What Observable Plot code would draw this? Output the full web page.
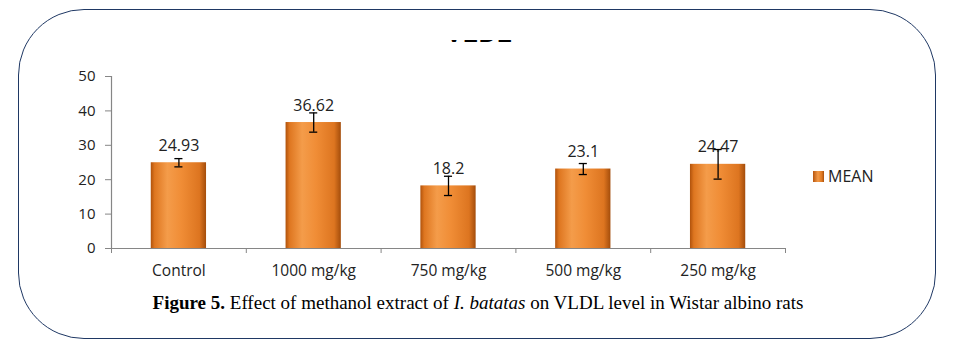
<!DOCTYPE html>
<html>
<head>
<meta charset="utf-8">
<script src="https://cdn.jsdelivr.net/npm/d3@7"></script>
<script src="https://cdn.jsdelivr.net/npm/@observablehq/plot@0.6"></script>
<style>
  html, body { margin: 0; padding: 0; background: #fff; }
  #root { position: relative; width: 980px; height: 351px; overflow: hidden; background: #fff; }
  #frame { position: absolute; left: 18px; top: 9px; width: 918px; height: 330px; border: 1.5px solid #1F3864; border-radius: 66px; box-sizing: border-box; }
  #chart { position: absolute; left: 79px; top: 0; }
  #titleClip { position: absolute; left: 440px; top: 40px; width: 80px; height: 4px; overflow: hidden; }
  #titleClip span { position: absolute; left: 6px; top: -20px; font: bold 24px "Liberation Sans", Arial, sans-serif; color: #000; letter-spacing: 1px; }
  #legend { position: absolute; left: 813px; top: 165px; font: 16px "Open Sans", sans-serif; color: #222; display: flex; align-items: center; }
  #legend .sw { width: 11px; height: 11px; margin-right: 4px; background: linear-gradient(90deg, #B8560E, #F39A48 45%, #E07A22 80%, #A9500D); }
  #caption { position: absolute; left: 0; width: 956px; top: 292px; text-align: center; font: 19px "Liberation Serif", "Times New Roman", serif; color: #000; }
</style>
</head>
<body>
<div id="root">
  <div id="frame"></div>
  <div id="titleClip"><span>VLDL</span></div>
  <div id="chart"></div>
  <div id="legend"><div class="sw"></div><span>MEAN</span></div>
  <div id="caption"><b>Figure 5.</b> Effect of methanol extract of <i>I. batatas</i> on VLDL level in Wistar albino rats</div>
</div>
<script>
const categories = ["Control", "1000 mg/kg", "750 mg/kg", "500 mg/kg", "250 mg/kg"];
const means = [24.93, 36.62, 18.2, 23.1, 24.47];
const meanLabels = ["24.93", "36.62", "18.2", "23.1", "24.47"];
const errors = [1.2, 2.8, 2.8, 1.6, 4.3];
const yTicks = [0, 10, 20, 30, 40, 50];

const data = categories.map((c, i) => ({cat: c, idx: i, mean: means[i], err: errors[i], label: meanLabels[i]}));
const half = 0.205;

const defs = () => {
  const d = d3.create("svg:defs");
  const g = d.append("linearGradient").attr("id", "barGrad").attr("x1", "0").attr("x2", "1").attr("y1", "0").attr("y2", "0");
  [["0%", "#B0520C"], ["7%", "#DE7620"], ["30%", "#F49C4A"], ["55%", "#F08D36"], ["88%", "#DD7520"], ["100%", "#A44D0B"]]
    .forEach(([o, c]) => g.append("stop").attr("offset", o).attr("stop-color", c));
  const t = d.append("linearGradient").attr("id", "topGrad").attr("x1", "0").attr("x2", "1").attr("y1", "0").attr("y2", "0");
  [["0%", "#D77A30"], ["15%", "#F9B57A"], ["85%", "#F9B57A"], ["100%", "#D77A30"]]
    .forEach(([o, c]) => t.append("stop").attr("offset", o).attr("stop-color", c));
  return d.node();
};

const plot = Plot.plot({
  width: 901,
  height: 351,
  marginLeft: 32,
  marginRight: 195,
  marginTop: 76,
  marginBottom: 103,
  style: {fontFamily: "'Open Sans', sans-serif", fontSize: "15px", color: "#222", background: "transparent", overflow: "visible"},
  x: {type: "linear", domain: [0, categories.length], axis: null},
  y: {domain: [0, 50], axis: null},
  marks: [
    defs,
    Plot.rectY(data, {x1: d => d.idx + 0.5 - half, x2: d => d.idx + 0.5 + half, y1: 0, y2: "mean", fill: "url(#barGrad)"}),
    Plot.ruleY(data, {y: "mean", x1: d => d.idx + 0.5 - half + 0.01, x2: d => d.idx + 0.5 + half - 0.01, stroke: "url(#topGrad)", strokeWidth: 4, dy: 2}),
    Plot.ruleY([0], {x1: 0, x2: categories.length, stroke: "#868686", strokeWidth: 1.2}),
    Plot.ruleX([0], {y1: 0, y2: 50, stroke: "#868686", strokeWidth: 1.2}),
    Plot.axisY({ticks: yTicks, label: null, tickSize: 6, tickPadding: 10, tickFormat: d => String(d), stroke: "#868686", fontSize: 15, fill: "#222"}),
    Plot.axisX({ticks: d3.range(0, categories.length + 1), label: null, tickSize: 5, tickFormat: () => "", stroke: "#868686"}),
    Plot.axisX({ticks: d3.range(0, categories.length).map(i => i + 0.5), label: null, tickSize: 0, tickPadding: 16, tickFormat: v => categories[Math.round(v - 0.5)], fontSize: 15.5, fill: "#222"}),
    Plot.ruleX(data, {x: d => d.idx + 0.5, y1: d => d.mean - d.err, y2: d => d.mean + d.err, stroke: "#000", strokeWidth: 1.3}),
    Plot.ruleY(data, {y: d => d.mean + d.err, x1: d => d.idx + 0.5 - 0.03, x2: d => d.idx + 0.5 + 0.03, stroke: "#000", strokeWidth: 1.3}),
    Plot.ruleY(data, {y: d => d.mean - d.err, x1: d => d.idx + 0.5 - 0.03, x2: d => d.idx + 0.5 + 0.03, stroke: "#000", strokeWidth: 1.3}),
    Plot.text(data, {x: d => d.idx + 0.5, y: "mean", text: "label", dy: -17, fontSize: 16, fill: "#222"})
  ]
});
document.getElementById("chart").appendChild(plot);
</script>
</body>
</html>
